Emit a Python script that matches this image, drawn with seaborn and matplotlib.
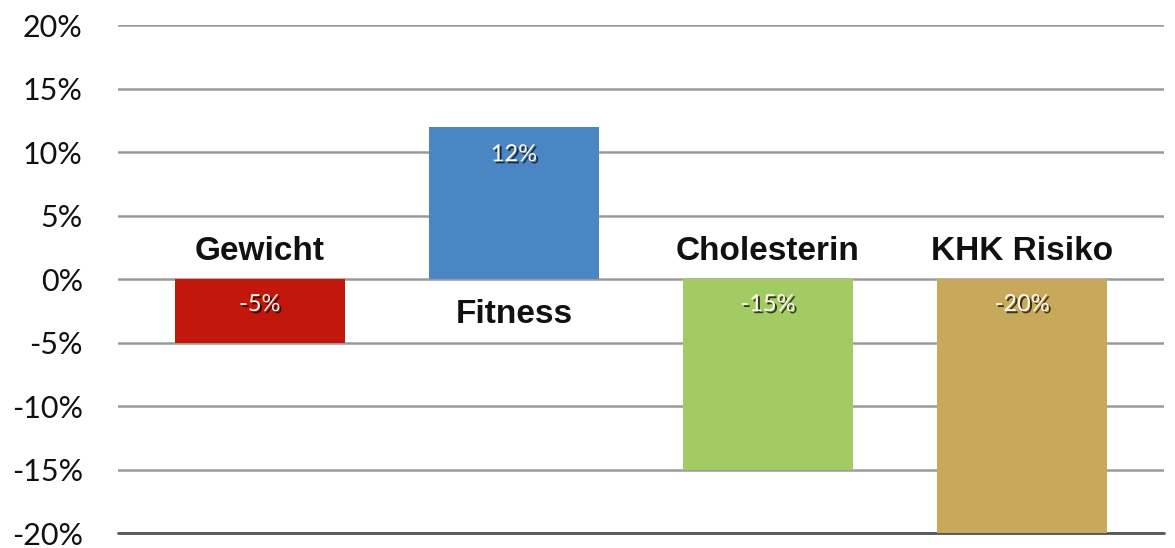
#! /usr/bin/env python3
'''
Bar chart: Veraenderung von Gewicht, Fitness, Cholesterin, KHK Risiko
'''
import matplotlib.pyplot as plt
import matplotlib.patheffects as pe
from matplotlib.ticker import FixedLocator
import seaborn as sns
import pandas as pd

categories = ['Gewicht', 'Fitness', 'Cholesterin', 'KHK Risiko']
values = [-5, 12, -15, -20]
colors = ['#c1170c', '#4b86c4', '#a2cb64', '#c8a85a']
value_labels = ['-5%', '12%', '-15%', '-20%']
yticks = [-20, -15, -10, -5, 0, 5, 10, 15, 20]
ytick_labels = ['%d%%' % t for t in yticks]

if __name__ == "__main__":
    sns.set_style('white')
    plt.rcParams['font.family'] = ['Lato', 'DejaVu Sans']

    df = pd.DataFrame({'cat': categories, 'val': values})

    # create figure+axes
    fig = plt.figure(figsize=(11.75, 5.48), dpi=100)
    ax = fig.add_axes([0.100, 0.027, 0.891, 0.927])

    sns.barplot(data=df, x='cat', y='val', hue='cat', palette=colors,
                width=0.67, saturation=1, legend=False, ax=ax, zorder=3,
                linewidth=0)

    # grid lines
    ax.set_ylim(-20, 20)
    ax.set_xlim(-0.56, 3.56)
    ax.yaxis.set_major_locator(FixedLocator(yticks))
    ax.set_yticklabels(ytick_labels, fontsize=22, color='#111111')
    ax.grid(axis='y', color='#9a9a9a', linewidth=1.8, zorder=0)
    ax.tick_params(axis='y', length=0, pad=25)
    ax.set_xticks([])
    ax.set_xlabel('')
    ax.set_ylabel('')
    for s in ax.spines.values():
        s.set_visible(False)
    ax.axhline(-20, color='#555555', linewidth=2, zorder=1, clip_on=False)

    # category labels above / below zero line
    for i, (c, v) in enumerate(zip(categories, values)):
        y = 2.2 if v < 0 else -2.8
        ax.text(i, y, c, ha='center', va='center', fontsize=24,
                fontweight='bold', family=['Liberation Sans Narrow', 'Liberation Sans'],
                color='#111111')

    # value labels inside bars
    shadow = [pe.withSimplePatchShadow(offset=(1.5, -1.5), shadow_rgbFace='#000000', alpha=0.7)]
    for i, (v, lab) in enumerate(zip(values, value_labels)):
        y = v - 2.2 if v > 0 else -2.0
        ax.text(i, y, lab, ha='center', va='center', fontsize=17,
                color='#fff8ee', path_effects=shadow, zorder=5)

    fig.savefig('out.png', dpi=100)
